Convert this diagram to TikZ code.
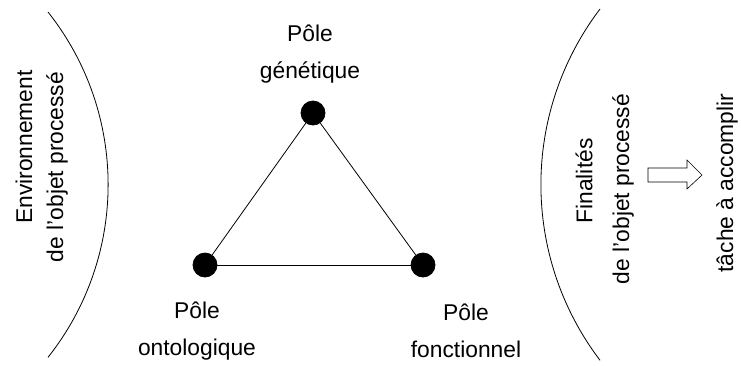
\documentclass[tikz,border=0pt]{standalone}
\usepackage{fontspec}
\setmainfont{Liberation Sans}
\usepackage{tikz}
\usetikzlibrary{positioning, arrows.meta}

\begin{document}
\begin{tikzpicture}[x=1pt,y=-1pt,line width=0.8pt,
    pole/.style={circle,fill=black,draw=black,minimum size=24pt,inner sep=0pt},
    lbl/.style={align=center,font=\fontsize{22.8}{37}\selectfont,inner sep=0pt},
    side/.style={font=\fontsize{22.8}{25}\selectfont,rotate=90,inner sep=0pt}]
    \useasboundingbox (0,0) rectangle (741,365);

    % poles
    \node[pole] (gen) at (313,113) {};
    \node[pole] (onto) at (205,265) {};
    \node[pole] (fonc) at (423,265) {};

    \path[-] (gen) edge (onto)
          (onto) edge (fonc)
          (fonc) edge (gen);

    \node[lbl] (lgen) at (310,54) {Pôle\\génétique};
    \node[lbl] (lonto) at (197,331) {Pôle\\ontologique};
    \node[lbl] (lfonc) at (466,331) {Pôle\\fonctionnel};

    % environnement et finalites
    \draw (48,12) arc[start angle=-38.4,end angle=38.4,radius=278];
    \draw (600,9) arc[start angle=217.2,end angle=142.8,radius=290.5];

    \node[side] (env) at (24,147) {Environnement};
    \node[side] (envb) at (57,167) {de l'objet processé};
    \node[side] (fin) at (584,181) {Finalités};
    \node[side] (finb) at (623,189) {de l'objet processé};
    \node[side] (tache) at (727,183) {tâche à accomplir};

    \draw[line width=0.6pt] (648,168) -- (687,168) -- (687,160) -- (702,175)
        -- (687,189) -- (687,182) -- (648,182) -- cycle;
\end{tikzpicture}
\end{document}
